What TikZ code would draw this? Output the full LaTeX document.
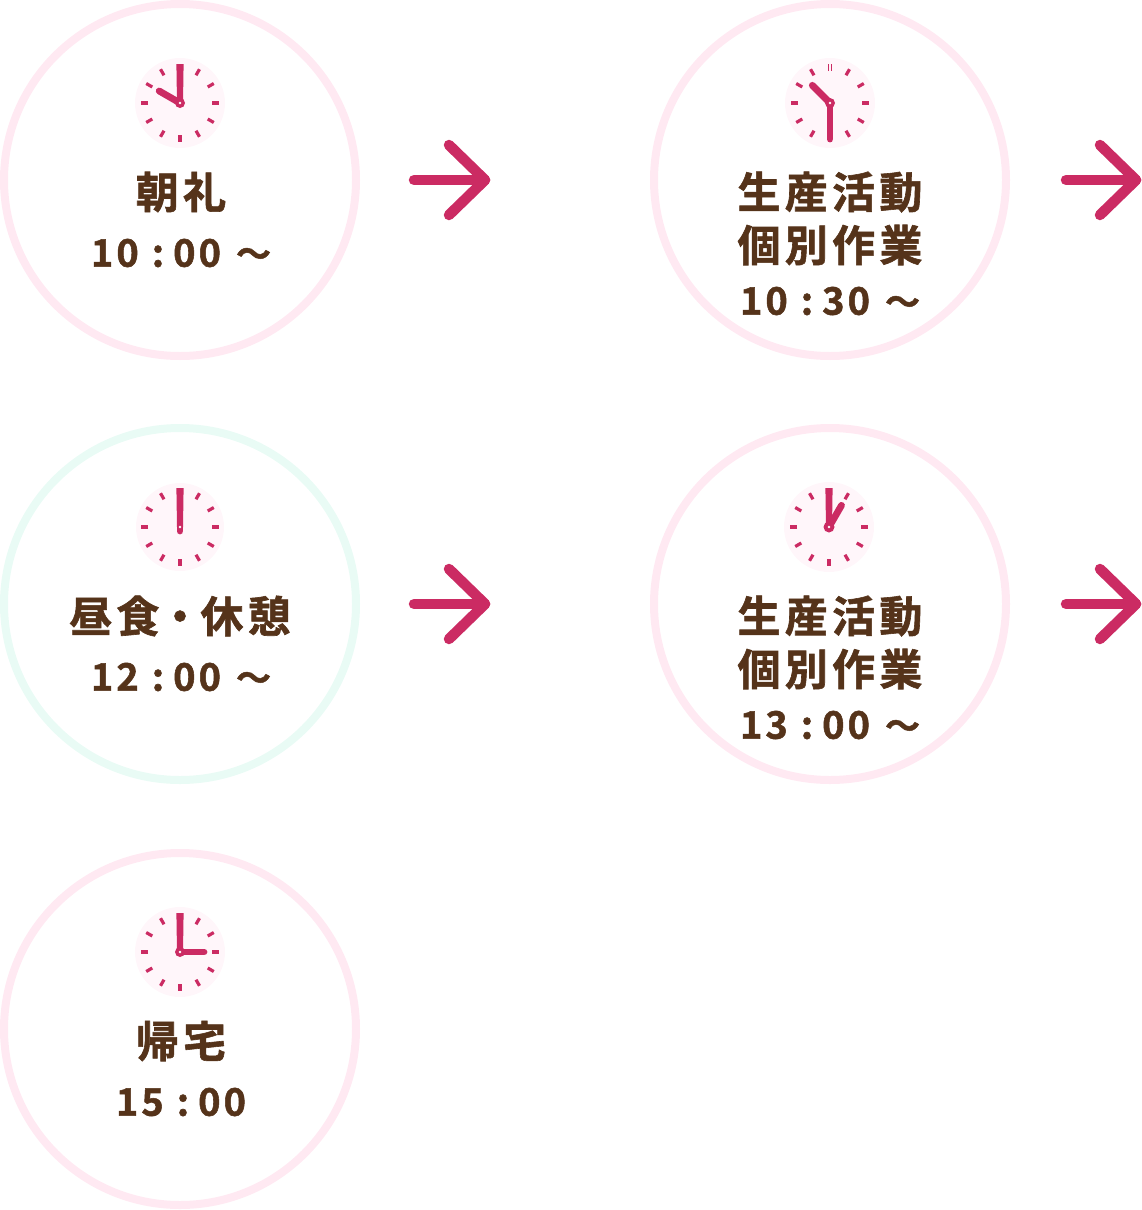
\documentclass[tikz,border=0pt]{standalone}
\usepackage{fontspec}
\usetikzlibrary{calc}
\newfontfamily\jp[LetterSpace=10,FakeBold=1.4]{Noto Sans CJK JP Bold}
\newfontfamily\num[LetterSpace=8,FakeBold=1.4]{Noto Sans CJK JP Bold}
\definecolor{pinkring}{HTML}{FFE9F2}
\definecolor{mintring}{HTML}{E9FBF5}
\definecolor{crimson}{HTML}{CB2B63}
\definecolor{facefill}{HTML}{FFF6FA}
\definecolor{brown}{HTML}{55331A}
\tikzset{
  x=1pt,y=-1pt,
  ring/.style={circle,draw=#1,line width=8pt,minimum size=352pt,inner sep=0pt,outer sep=0pt},
  face/.style={circle,fill=facefill,minimum size=90pt,inner sep=0pt},
  tick/.style={draw=crimson,line width=3.2pt},
  hourhand/.style={draw=crimson,line width=6.8pt,line cap=round},
  arrowline/.style={draw=crimson,line width=10.5pt,line cap=round,line join=round},
  title/.style={text=brown,font=\jp\fontsize{43}{43}\selectfont,inner sep=0pt,anchor=center},
  time/.style={text=brown,font=\num\fontsize{38}{38}\selectfont,inner sep=0pt,anchor=center}
}
\newcommand{\tmlabel}[2]{#1\kern13pt:\kern9pt#2}
\newcommand{\tmfrom}[2]{\tmlabel{#1}{#2}\kern15pt{\fontsize{35}{35}\selectfont ～}}
% #1 name, #2 x, #3 y, #4 hour angle, #5 hour length, #6 face size
\newcommand{\clockface}[6]{%
  \node[face,minimum size=#6pt] (#1) at (#2,#3) {};
  \foreach \a in {0,30,...,330}{
    \draw[tick] ($(#2,#3)+(\a:32 and -32)$) -- ($(#2,#3)+(\a:39 and -39)$);
  }
  \draw[hourhand] (#1.center) -- ($(#2,#3)+(#4:#5 and -#5)$);
}
% upward minute hand: wide flat tip, narrowing to the hub
\newcommand{\minuteup}[1]{%
  \fill[crimson] ($(#1.center)+(-3.6,-39)$) -- ($(#1.center)+(3.6,-39)$) -- ($(#1.center)+(3,0)$) -- ($(#1.center)+(-3,0)$) -- cycle;
}
\newcommand{\hub}[2]{%
  \fill[crimson] (#1.center) circle[radius=#2pt];
  \fill[white] (#1.center) circle[radius=1.3pt];
}
% #1 prefix, #2 x tip, #3 y, #4 x-start
\newcommand{\flowarrow}[4]{%
  \coordinate (#1s) at (#4,#3);
  \coordinate (#1e) at (#2,#3);
  \coordinate (#1u) at (#2-36,#3-35);
  \coordinate (#1d) at (#2-36,#3+35);
  \draw[arrowline] (#1s) -- (#1e);
  \draw[arrowline] (#1u) -- (#1e) -- (#1d);
}
\begin{document}
\begin{tikzpicture}
\useasboundingbox (0,0) rectangle (1141,1210);
\node[ring=pinkring] (c1) at (180,180) {};
\node[ring=pinkring] (c2) at (830,180) {};
\node[ring=mintring] (c3) at (180,604) {};
\node[ring=pinkring] (c4) at (830,604) {};
\node[ring=pinkring] (c5) at (180,1029) {};
\clockface{k1}{180}{103}{150}{24}{90}
\minuteup{k1}\hub{k1}{5}
\clockface{k2}{830}{103}{135}{25}{90}
\draw[facefill,line width=1.6pt] ($(k2.center)+(0,-39.5)$) -- ($(k2.center)+(0,-31.5)$);
\coordinate (k2m) at ($(k2.center)+(0,36)$);
\draw[hourhand] (k2.center) -- (k2m);
\hub{k2}{5}
\clockface{k3}{180}{527}{-90}{4}{88}
\minuteup{k3}\hub{k3}{3}
\clockface{k4}{829}{527}{60}{25}{90}
\minuteup{k4}\hub{k4}{5.5}
\clockface{k5}{180}{952}{0}{24}{90}
\minuteup{k5}\hub{k5}{5}
\flowarrow{a1}{485}{180}{414}
\flowarrow{a2}{1136}{180}{1066}
\flowarrow{a3}{485}{604}{414}
\flowarrow{a4}{1136}{604}{1066}
\node[title] (t1) at (181,192) {朝礼};
\node[time] (h1) at (181,253) {\tmfrom{10}{00}};
\node[title] (t2) at (830,192) {生産活動};
\node[title] (t2b) at (830,245) {個別作業};
\node[time] (h2) at (830,301) {\tmfrom{10}{30}};
\node[title] (t3) at (180,616) {昼食\kern-1pt・\kern-1pt休憩};
\node[time] (h3) at (181,677) {\tmfrom{12}{00}};
\node[title] (t4) at (830,616) {生産活動};
\node[title] (t4b) at (830,669) {個別作業};
\node[time] (h4) at (830,725) {\tmfrom{13}{00}};
\node[title] (t5) at (181,1041) {帰宅};
\node[time] (h5) at (181,1102) {\tmlabel{15}{00}};
\end{tikzpicture}
\end{document}
